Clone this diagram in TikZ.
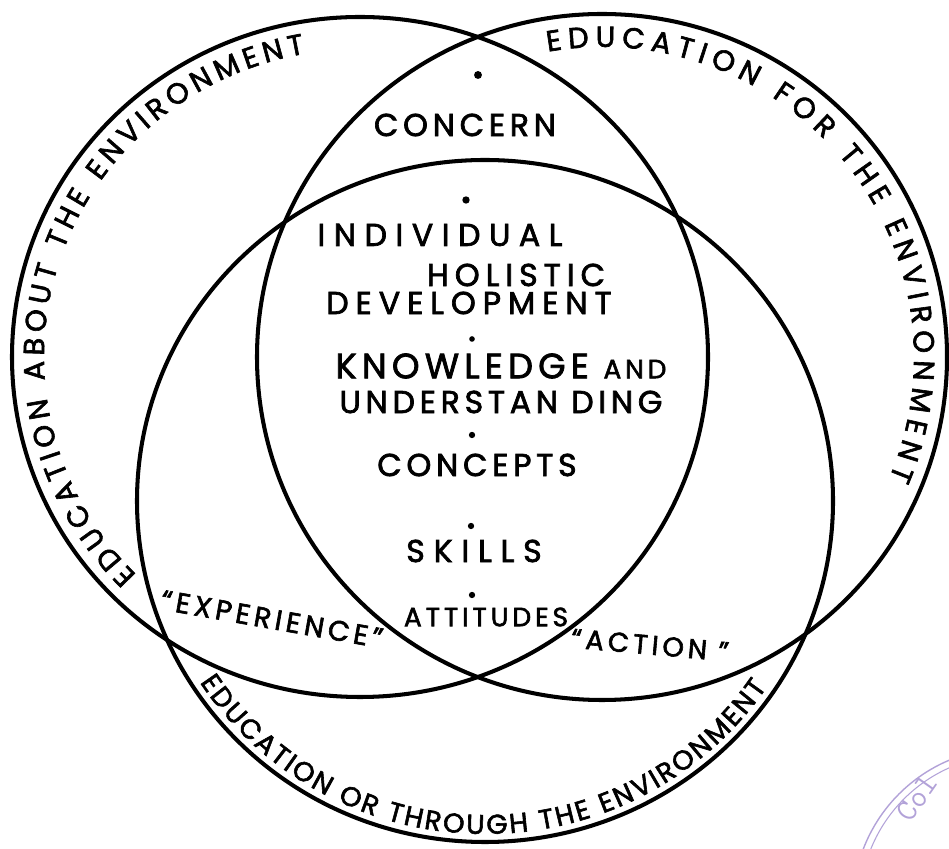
\documentclass[tikz,border=0pt]{standalone}
\usepackage{fontspec}
\usepackage{tikz}
\usetikzlibrary{decorations.text}
\newfontfamily\hand[LetterSpace=15, FakeBold=2.2]{Poppins}
\newfontfamily\rim[FakeBold=2.2]{Poppins}
\newcommand\spread[1]{\addfontfeature{LetterSpace=#1}}
\definecolor{stampink}{RGB}{178,162,216}

\begin{document}
\begin{tikzpicture}[
  x=0.02cm, y=0.02cm,
  ring/.style={draw=black, line width=2.3pt},
  word/.style={font=\hand\fontsize{18}{20}\selectfont, inner sep=0pt},
  bigword/.style={word, font=\hand\fontsize{20}{22}\selectfont},
  smallword/.style={word, font=\hand\fontsize{15.5}{17}\selectfont},
  bullet/.style={circle, fill=black, inner sep=0pt, minimum size=3.6pt},
  rimtext/.style={decorate, decoration={text along path,
      text align=fit to path,
      text={|\rim\fontsize{16.5}{18}\selectfont|#1}}},
  rimsmall/.style={decorate, decoration={text along path,
      text align=fit to path,
      text={|\rim\fontsize{15.5}{17}\selectfont|#1}}}
]
\useasboundingbox (0,0) rectangle (949,848);

% ==================== Three circles ====================
\coordinate (cA) at (360,491);  % about
\coordinate (cF) at (602,491);  % for
\coordinate (cT) at (485,347);  % through

\draw[ring] (cA) ellipse [x radius=348, y radius=340];
\draw[ring] (cF) ellipse [x radius=345, y radius=343];
\draw[ring] (cT) ellipse [x radius=348, y radius=341];

% ==================== Rim labels ====================
\path[rimtext={EDUCATION ABOUT THE ENVIRONMENT}]
  (cA) ++(225:316 and 308) arc[start angle=225, end angle=100, x radius=316, y radius=308];
\path[rimtext={EDUCATION FOR THE ENVIRONMENT}]
  (cF) ++(100:312 and 310) arc[start angle=100, end angle=-23, x radius=312, y radius=310];
\path[rimsmall={EDUCATION OR THROUGH THE ENVIRONMENT}]
  (cT) ++(213:340 and 333) arc[start angle=213, end angle=326, x radius=340, y radius=333];

% ==================== Centre column ====================
\node[bullet, minimum size=4.5pt] (b1) at (478,773) {};
\node[word] (concern) at (465,723) {CONCERN};
\node[bullet, minimum size=4.2pt] (b2) at (466,648) {};
\node[word] (indiv) at (440,613) {\spread{27}INDIVIDUAL};
\node[word] (holistic) at (516,573) {\spread{19}HOLISTIC};
\node[word] (develop) at (469,545) {\spread{22}DEVELOPMENT};
\node[bullet, minimum size=3.2pt] (b3) at (472,509) {};
\node[bigword] (knowledge) at (501,482) {KNOWLEDGE {\fontsize{15}{17}\selectfont AND}};
\node[word] (understand) at (501,446) {UNDERSTAN DING};
\node[bullet, minimum size=3.6pt] (b4) at (472,413) {};
\node[word] (concepts) at (477,383) {CONCEPTS};
\node[bullet, minimum size=3.6pt] (b5) at (471,322) {};
\node[word] (skills) at (474,297) {\spread{28}SKILLS};
\node[bullet, minimum size=3.6pt] (b6) at (472,253) {};
\node[word, font=\hand\fontsize{15}{17}\selectfont] (attitudes) at (486,231) {ATTITUDES};

% ==================== Overlap words ====================
\node[word, font=\hand\fontsize{16}{18}\selectfont, rotate=-10] (experience) at (272,229) {“EXPERIENCE”};
\node[smallword, rotate=-5] (action) at (650,203) {“ACTION ”};

% ==================== Stamp (corner) ====================
\begin{scope}
  \clip (0,0) rectangle (949,848);
  \draw[stampink, line width=0.8pt] (1010,-57) circle [radius=157];
  \draw[stampink, line width=0.6pt] (1010,-57) circle [radius=150];
  \node[text=stampink, font=\ttfamily\fontsize{18}{18}\selectfont, rotate=55] (stamp) at (917,50) {Col};
\end{scope}

\end{tikzpicture}
\end{document}
